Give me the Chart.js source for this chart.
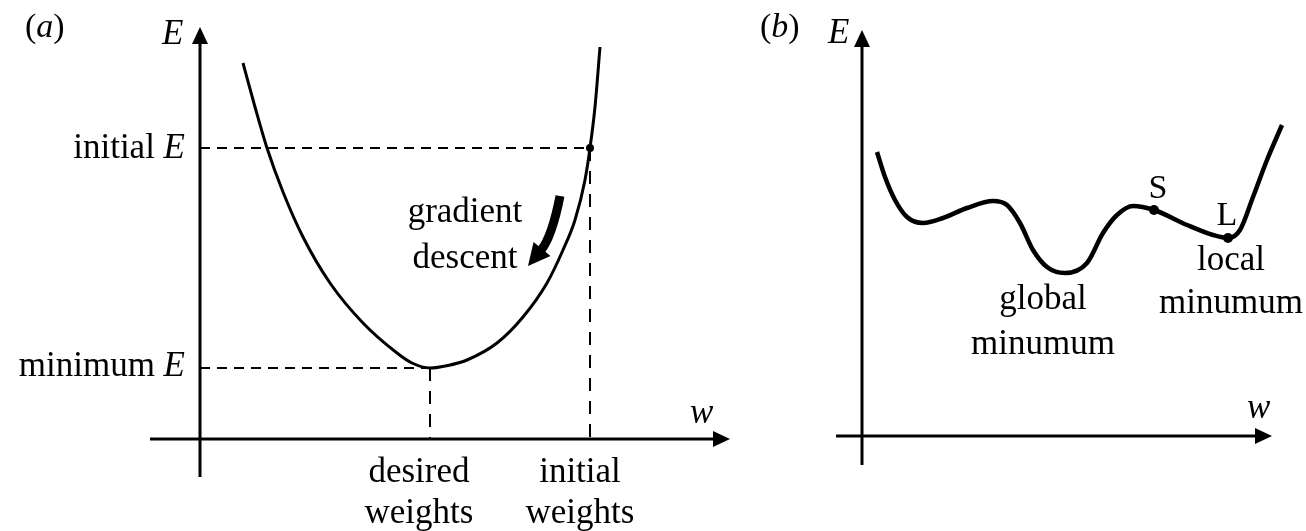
<!DOCTYPE html>
<html lang="en">
<head>
<meta charset="UTF-8">
<title>Gradient descent sketch</title>
<script src="https://cdn.jsdelivr.net/npm/chart.js@4.4.1/dist/chart.umd.min.js"></script>
<style>
    * { margin: 0; padding: 0; box-sizing: border-box; }
    body { background: #fff; width: 1306px; height: 531px; overflow: hidden; position: relative; }
    canvas { position: absolute; top: 0; }
    #panelA { left: 0; }
    #panelB { left: 745px; }
</style>
</head>
<body>
<canvas id="panelA" width="745" height="531"></canvas>
<canvas id="panelB" width="561" height="531"></canvas>
<script>
// ---- panel (a): convex error curve E(w)
const curveA_w = [0.86, 1.10, 1.34, 1.66, 2.06, 2.60, 3.26, 3.94, 4.24, 4.60, 4.96, 5.34, 5.94, 6.46, 6.94, 7.26, 7.50, 7.70, 7.80, 7.90, 8.00];
const curveA_E = [7.52, 6.64, 5.82, 4.94, 4.04, 3.12, 2.32, 1.72, 1.52, 1.42, 1.47, 1.58, 1.92, 2.44, 3.12, 3.78, 4.38, 5.18, 5.82, 6.64, 7.84];
const initialW = 7.80, initialE = 5.82;
const desiredW = 4.60, minimumE = 1.42;

// ---- panel (b): error curve with a global and a local minimum
const curveB_w = [0.30, 0.46, 0.66, 0.90, 1.22, 1.62, 2.10, 2.62, 2.90, 3.16, 3.42, 3.70, 4.06, 4.50, 4.82, 5.10, 5.42, 5.84, 6.50, 7.02, 7.32, 7.56, 7.82, 8.10, 8.40];
const curveB_E = [5.68, 5.18, 4.72, 4.38, 4.26, 4.36, 4.56, 4.70, 4.62, 4.26, 3.72, 3.38, 3.26, 3.46, 4.06, 4.42, 4.60, 4.52, 4.22, 4.02, 3.96, 4.12, 4.78, 5.52, 6.22];
const markNames = ['S', 'L'];
const markW = [5.84, 7.32];
const markE = [4.52, 3.96];
const globalMinW = 4.06, globalMinE = 3.26;

const SERIF = "'Liberation Serif', 'Times New Roman', serif";
const INK = '#000';

const zip = (xs, ys) => xs.map((v, i) => ({ x: v, y: ys[i] }));

// text with *italic* parts
function drawRich(ctx, str, x, y, align, size) {
    const parts = str.split('*').map((t, k) => ({ t, font: (k % 2 ? 'italic ' : '') + size + 'px ' + SERIF }));
    const widths = parts.map(p => { ctx.font = p.font; return ctx.measureText(p.t).width; });
    const total = widths.reduce((a, b) => a + b, 0);
    let cx = align === 'right' ? x - total : align === 'center' ? x - total / 2 : x;
    ctx.textAlign = 'left';
    ctx.textBaseline = 'alphabetic';
    parts.forEach((p, k) => { ctx.font = p.font; ctx.fillText(p.t, cx, y); cx += widths[k]; });
}

function arrowLine(ctx, x0, y0, x1, y1) {
    const a = Math.atan2(y1 - y0, x1 - x0), c = Math.cos(a), s = Math.sin(a);
    const len = 17, half = 8;
    ctx.beginPath();
    ctx.moveTo(x0, y0);
    ctx.lineTo(x1 - c * len * 0.7, y1 - s * len * 0.7);
    ctx.stroke();
    ctx.beginPath();
    ctx.moveTo(x1, y1);
    ctx.lineTo(x1 - c * len - s * half, y1 - s * len + c * half);
    ctx.lineTo(x1 - c * len + s * half, y1 - s * len - c * half);
    ctx.closePath();
    ctx.fill();
}

const sketchPlugin = {
    id: 'sketch',
    afterDatasetsDraw(chart, args, opts) {
        const { ctx, scales: { x, y } } = chart;
        ctx.save();
        ctx.strokeStyle = INK;
        ctx.fillStyle = INK;
        ctx.lineWidth = 3;
        const ax = opts.axes;
        arrowLine(ctx, x.getPixelForValue(ax.w0), y.getPixelForValue(0), x.getPixelForValue(ax.w1), y.getPixelForValue(0));
        arrowLine(ctx, x.getPixelForValue(0), y.getPixelForValue(ax.e0), x.getPixelForValue(0), y.getPixelForValue(ax.e1));

        if (opts.bend) {
            // thick curved "gradient descent" arrow
            const b = opts.bend;
            const p0 = [x.getPixelForValue(b.from[0]), y.getPixelForValue(b.from[1])];
            const pc = [x.getPixelForValue(b.ctrl[0]), y.getPixelForValue(b.ctrl[1])];
            const tip = [x.getPixelForValue(b.tip[0]), y.getPixelForValue(b.tip[1])];
            const dx = tip[0] - pc[0], dy = tip[1] - pc[1], d = Math.hypot(dx, dy);
            const ux = dx / d, uy = dy / d, headLen = 22, half = 11;
            const base = [tip[0] - ux * headLen, tip[1] - uy * headLen];
            ctx.lineWidth = 9;
            ctx.lineCap = 'butt';
            ctx.beginPath();
            ctx.moveTo(p0[0], p0[1]);
            ctx.quadraticCurveTo(pc[0], pc[1], base[0] + ux * 2, base[1] + uy * 2);
            ctx.stroke();
            ctx.beginPath();
            ctx.moveTo(tip[0], tip[1]);
            ctx.lineTo(base[0] - uy * half, base[1] + ux * half);
            ctx.lineTo(base[0] + uy * half, base[1] - ux * half);
            ctx.closePath();
            ctx.fill();
        }

        opts.labels.forEach(l => {
            const px = x.getPixelForValue(l.w) + (l.dx || 0);
            const py = y.getPixelForValue(l.e) + (l.dy || 0);
            drawRich(ctx, l.text, px, py, l.align || 'center', l.size || 35);
        });
        ctx.restore();
    }
};

function panelOptions(xr, yr, pad, sketch) {
    return {
        responsive: false,
        animation: false,
        events: [],
        layout: { padding: pad },
        scales: {
            x: { type: 'linear', min: xr[0], max: xr[1], display: false },
            y: { type: 'linear', min: yr[0], max: yr[1], display: false }
        },
        plugins: { legend: { display: false }, tooltip: { enabled: false }, sketch }
    };
}

const lineStyle = { borderColor: INK, pointRadius: 0, fill: false, clip: false, tension: 0 };

// panel (a)
new Chart(document.getElementById('panelA'), {
    type: 'line',
    data: {
        datasets: [
            { ...lineStyle, data: [{ x: 0, y: initialE }, { x: initialW, y: initialE }], borderWidth: 2, borderDash: [10, 7] },
            { ...lineStyle, data: [{ x: initialW, y: initialE }, { x: initialW, y: 0 }], borderWidth: 2, borderDash: [13, 10] },
            { ...lineStyle, data: [{ x: 0, y: minimumE }, { x: desiredW, y: minimumE }], borderWidth: 2, borderDash: [10, 7] },
            { ...lineStyle, data: [{ x: desiredW, y: minimumE }, { x: desiredW, y: 0 }], borderWidth: 2, borderDash: [13, 10] },
            { ...lineStyle, data: zip(curveA_w, curveA_E), borderWidth: 3, cubicInterpolationMode: 'monotone' },
            { ...lineStyle, data: [{ x: initialW, y: initialE }], showLine: false, pointRadius: 4, pointBackgroundColor: INK, pointBorderWidth: 0 }
        ]
    },
    options: panelOptions([-1, 10.6], [-0.76, 8.24], { left: 150, right: 15, top: 27, bottom: 54 }, {
        axes: { w0: -1, w1: 10.6, e0: -0.76, e1: 8.24 },
        bend: { from: [7.2, 4.86], ctrl: [7.04, 4.04], tip: [6.56, 3.46] },
        labels: [
            { text: '(*a*)', w: -3.5, e: 8.04, align: 'left', size: 34 },
            { text: '*E*', w: -0.76, e: 7.9, align: 'left' },
            { text: 'initial *E*', w: 0, e: initialE, dx: -15, dy: 10, align: 'right' },
            { text: 'minimum *E*', w: 0, e: minimumE, dx: -15, dy: 8, align: 'right' },
            { text: 'desired', w: desiredW, e: 0, dx: -11, dy: 43 },
            { text: 'weights', w: desiredW, e: 0, dx: -11, dy: 84 },
            { text: 'initial', w: initialW, e: 0, dx: -10, dy: 43 },
            { text: 'weights', w: initialW, e: 0, dx: -10, dy: 84 },
            { text: 'gradient', w: 5.3, e: 4.34 },
            { text: 'descent', w: 5.3, e: 3.42 },
            { text: '*w*', w: 9.8, e: 0.32, align: 'left' }
        ]
    }),
    plugins: [sketchPlugin]
});

// panel (b)
new Chart(document.getElementById('panelB'), {
    type: 'line',
    data: {
        datasets: [
            { ...lineStyle, data: zip(curveB_w, curveB_E), borderWidth: 4.5, cubicInterpolationMode: 'monotone' },
            { ...lineStyle, data: zip(markW, markE), showLine: false, pointRadius: 5, pointBackgroundColor: INK, pointBorderWidth: 0 }
        ]
    },
    options: panelOptions([-0.52, 8.56], [-0.82, 8.18], { left: 91, right: 16, top: 27, bottom: 54 }, {
        axes: { w0: -0.52, w1: 8.2, e0: -0.58, e1: 8.12 },
        labels: [
            { text: '(*b*)', w: -2.04, e: 7.98, align: 'left', size: 34 },
            { text: '*E*', w: -0.68, e: 7.86, align: 'left' },
            { text: '*w*', w: 7.7, e: 0.36, align: 'left' },
            { text: markNames[0], w: markW[0], e: markE[0], dx: 4, dy: -12, size: 34 },
            { text: markNames[1], w: markW[1], e: markE[1], dx: -1, dy: -13, size: 34 },
            { text: 'local', w: markW[1], e: markE[1], dx: 3, dy: 32 },
            { text: 'minumum', w: markW[1], e: markE[1], dx: 3, dy: 75 },
            { text: 'global', w: globalMinW, e: globalMinE, dx: -22, dy: 36 },
            { text: 'minumum', w: globalMinW, e: globalMinE, dx: -22, dy: 81 }
        ]
    }),
    plugins: [sketchPlugin]
});
</script>
</body>
</html>
